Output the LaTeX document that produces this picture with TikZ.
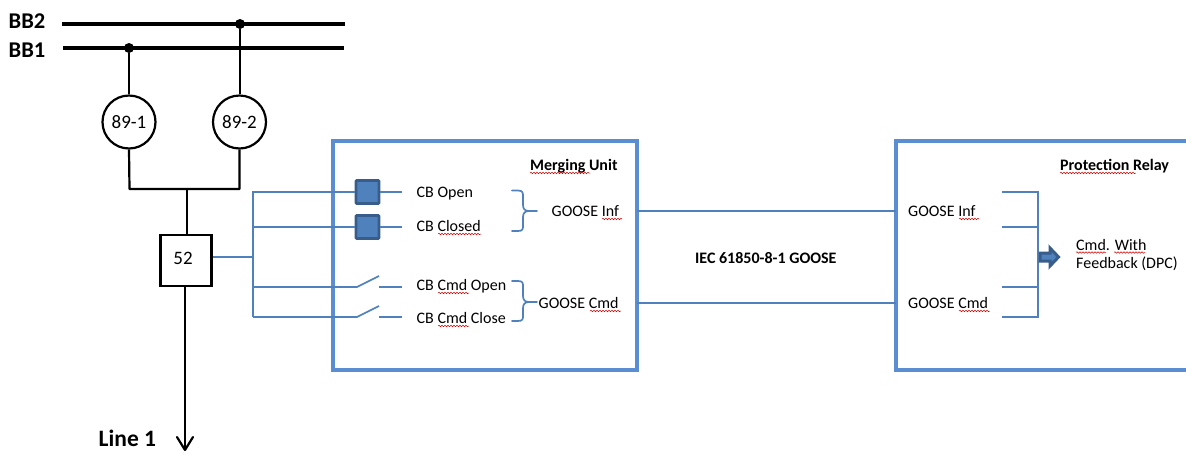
\documentclass[tikz,border=0pt]{standalone}
\usepackage{fontspec}
\setmainfont{Carlito}
\usetikzlibrary{decorations.pathmorphing,calc}
\definecolor{boxblue}{HTML}{5B8DD2}
\definecolor{lineblue}{HTML}{4F81BD}
\definecolor{darkblue}{HTML}{385D8A}
\tikzset{
  x=1pt,y=-1pt,
  bus/.style={draw=black,line width=3.2pt},
  feeder/.style={draw=black,line width=2.2pt},
  busdot/.style={circle,fill=black,inner sep=0pt,minimum size=10pt},
  iso/.style={circle,draw=black,line width=2.2pt,fill=white,minimum size=53pt,inner sep=0pt,font=\fontsize{19}{21}\selectfont},
  breaker/.style={rectangle,draw=black,line width=2.8pt,fill=white,minimum size=51pt,inner sep=0pt},
  unitbox/.style={rectangle,draw=boxblue,line width=3.2pt,inner sep=0pt},
  wire/.style={draw=lineblue,line width=1.7pt},
  contact/.style={rectangle,draw=darkblue,fill=lineblue,line width=2.6pt,rounded corners=0.8pt,minimum size=23pt,inner sep=0pt},
  lbl/.style={anchor=base west,inner sep=0pt,font=\fontsize{16}{18}\selectfont},
  bold/.style={anchor=base west,inner sep=0pt,font=\fontsize{16}{18}\selectfont\bfseries},
  big/.style={anchor=base west,inner sep=0pt,font=\fontsize{22.5}{24}\selectfont\bfseries},
  spell/.style={draw=red!85!black,line width=0.5pt,decorate,decoration={snake,amplitude=0.8pt,segment length=3pt}},
}
\begin{document}
\begin{tikzpicture}
\useasboundingbox (0,0) rectangle (1186,451);
% bus bars
\coordinate (bb2a) at (62,24); \coordinate (bb2b) at (345,24);
\coordinate (bb1a) at (63,48); \coordinate (bb1b) at (344,48);
\draw[bus] (bb2a) -- (bb2b);
\draw[bus] (bb1a) -- (bb1b);
\node[big] (tbb2) at (8.5,28) {BB2};
\node[big] (tbb1) at (8.5,57) {BB1};
\node[busdot] (d1) at (129,48) {};
\node[busdot] (d2) at (240,24) {};
\node[iso] (i1) at (129,122) {89-1};
\node[iso] (i2) at (239.5,122) {89-2};
\node[breaker] (cb) at (186,260.5) {};
\node[font=\fontsize{19}{21}\selectfont,inner sep=0pt] (t52) at (183,258.5) {52};
\coordinate (j) at (187,189);
\draw[feeder] (d1) -- (i1);
\draw[feeder] (d2) -- (d2 |- i2.north);
\draw[feeder,line join=round] (i1.south) -- (129.5,189) -- (239.5,189) -- (i2.south);
\draw[feeder] (j) -- (j |- cb.north);
\coordinate (lineend) at (185,450);
\coordinate (lineup) at (185,286);
\draw[feeder] (lineup) -- (lineend);
\draw[feeder,line cap=round,line join=round] (177,437) -- (lineend) -- (193,437);
\node[anchor=base west,inner sep=0pt,font=\fontsize{23.5}{25}\selectfont\bfseries] (tl1) at (98.5,446.5) {Line 1};
% units
\node[unitbox,minimum width=304pt,minimum height=229pt] (mu) at (485,255.5) {};
\draw[draw=boxblue,line width=3.2pt] (1190,141) -- (896,141) -- (896,370) -- (1190,370);
\coordinate (relayInf) at (896,211);
\coordinate (relayCmd) at (896,303);
% contacts
\node[contact] (c1) at (367.5,192) {};
\node[contact] (c2) at (367.5,227) {};
\coordinate (tap) at (212,257);
\coordinate (bt) at (253,192);
\coordinate (bb) at (253,317);
\draw[wire] (bb) -- (bt) -- (c1.west);
\draw[wire] (253,227) -- (c2.west);
\draw[wire] (cb.east |- tap) -- (253,257);
\draw[wire] (c1.east) -- (402,192);
\draw[wire] (c2.east) -- (402,227);
\draw[wire] (253,287) -- (357,287) -- (379,276);
\draw[wire] (379,287) -- (402,287);
\draw[wire] (bb) -- (357,317) -- (379,306);
\draw[wire] (379,317) -- (402,317);
% labels merging unit
\node[bold] (tmu) at (530,170) {Merging Unit};
\node[lbl] (t1) at (416.5,197) {CB Open};
\node[lbl] (t2) at (416.5,231) {CB Closed};
\node[lbl] (t3) at (416.5,290) {CB Cmd Open};
\node[lbl] (t4) at (416.5,323) {CB Cmd Close};
\node[lbl] (t5) at (551.5,216) {GOOSE Inf};
\node[lbl] (t6) at (538.5,308.5) {GOOSE Cmd};
% braces
\draw[wire,line cap=round] (512,190.5) -- (518,190.5) .. controls (523,190.5) and (523,193) .. (523,197) -- (523,205) .. controls (523,209) and (525,211) .. (529,211) -- (537,211);
\draw[wire,line cap=round] (512,231) -- (518,231) .. controls (523,231) and (523,229) .. (523,225) -- (523,217) .. controls (523,213) and (525,211) .. (529,211);
\draw[wire,line cap=round] (512,281) -- (518,281) .. controls (523,281) and (523,283) .. (523,287) -- (523,296) .. controls (523,300) and (525,302) .. (529,302) -- (537,302);
\draw[wire,line cap=round] (512,321) -- (518,321) .. controls (523,321) and (523,319) .. (523,315) -- (523,308) .. controls (523,304) and (525,302) .. (529,302);
% link
\coordinate (muInf) at (637,211);
\coordinate (muCmd) at (637,303);
\draw[wire] (muInf) -- (relayInf);
\draw[wire] (muCmd) -- (relayCmd);
\node[bold] (tiec) at (695,263) {IEC 61850-8-1 GOOSE};
% relay
\node[bold] (tpr) at (1060,170) {Protection Relay};
\node[lbl] (r1) at (908,216) {GOOSE Inf};
\node[lbl] (r2) at (908,308.5) {GOOSE Cmd};
\coordinate (ct) at (1038,192);
\coordinate (cbm) at (1038,317);
\draw[wire] (1002,192) -- (ct) -- (cbm) -- (1002,317);
\draw[wire] (1002,227) -- (1038,227);
\draw[wire] (1002,287) -- (1038,287);
\draw[draw=darkblue,fill=lineblue,line width=3pt,line join=miter] (1040,253) -- (1050,253) -- (1050,248) -- (1058.5,257) -- (1050,266) -- (1050,261) -- (1040,261) -- cycle;
\node[lbl] (q1) at (1076,250) {Cmd. With};
\node[lbl] (q2) at (1076,268.5) {Feedback (DPC)};
% spell marks
\draw[spell] (530,173) -- (590,173);
\draw[spell] (438,234) -- (481,234);
\draw[spell] (438,293) -- (469,293);
\draw[spell] (438,326) -- (469,326);
\draw[spell] (602,219) -- (622,219);
\draw[spell] (590,311) -- (621,311);
\draw[spell] (1060,173) -- (1136,173);
\draw[spell] (959,219) -- (979,219);
\draw[spell] (959,311) -- (990,311);
\draw[spell] (1076,252.5) -- (1106,252.5);
\draw[spell] (1114,252.5) -- (1145,252.5);
\end{tikzpicture}
\end{document}
